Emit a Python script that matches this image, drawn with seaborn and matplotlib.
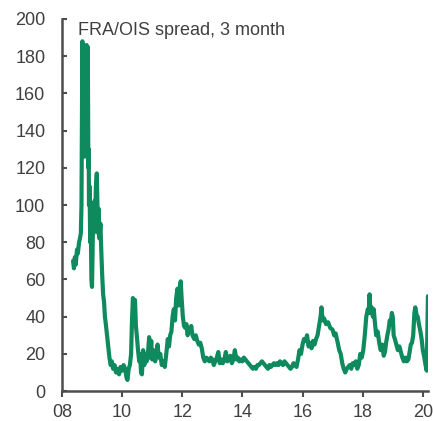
import matplotlib
matplotlib.use("Agg")
import matplotlib.pyplot as plt
import seaborn as sns
import pandas as pd
import numpy as np

years = [
    2008.37, 2008.40, 2008.43, 2008.46, 2008.50, 2008.53, 2008.57, 2008.60, 2008.63, 2008.65,
    2008.67, 2008.68, 2008.69, 2008.70, 2008.71, 2008.72, 2008.73, 2008.74, 2008.75, 2008.76,
    2008.77, 2008.78, 2008.79, 2008.80, 2008.81, 2008.82, 2008.83, 2008.84, 2008.85, 2008.86,
    2008.87, 2008.88, 2008.89, 2008.90, 2008.92, 2008.94, 2008.96, 2008.98, 2009.00, 2009.02,
    2009.04, 2009.06, 2009.08, 2009.10, 2009.13, 2009.16, 2009.18, 2009.20, 2009.22, 2009.25,
    2009.28, 2009.31, 2009.34, 2009.37, 2009.40, 2009.43,
    2009.46, 2009.50, 2009.54, 2009.58, 2009.62, 2009.66, 2009.70, 2009.75, 2009.80,
    2009.85, 2009.90, 2009.95, 2010.00, 2010.05, 2010.10, 2010.15, 2010.18, 2010.22, 2010.26,
    2010.30, 2010.33, 2010.36, 2010.40, 2010.43, 2010.46, 2010.50, 2010.53, 2010.57, 2010.60,
    2010.63, 2010.66, 2010.70, 2010.74, 2010.78, 2010.82, 2010.86, 2010.90, 2010.93, 2010.97,
    2011.00, 2011.05, 2011.10, 2011.15, 2011.18, 2011.22, 2011.27, 2011.32, 2011.37, 2011.42,
    2011.47, 2011.52, 2011.56, 2011.60, 2011.64, 2011.68, 2011.72, 2011.76, 2011.80, 2011.84,
    2011.88, 2011.92, 2011.95, 2011.98, 2012.02, 2012.06, 2012.10, 2012.14, 2012.18, 2012.22,
    2012.26, 2012.30, 2012.34, 2012.40, 2012.45, 2012.50, 2012.55, 2012.60, 2012.65, 2012.70,
    2012.75, 2012.80, 2012.85, 2012.90, 2012.95, 2013.00, 2013.05, 2013.10, 2013.15, 2013.20,
    2013.25, 2013.30, 2013.35, 2013.40, 2013.45, 2013.50, 2013.55, 2013.60, 2013.65, 2013.70,
    2013.75, 2013.80, 2013.85, 2013.90, 2013.95, 2014.00, 2014.05, 2014.10, 2014.15, 2014.20,
    2014.25, 2014.30, 2014.35, 2014.40, 2014.45, 2014.50, 2014.55, 2014.60, 2014.65, 2014.70,
    2014.75, 2014.80, 2014.85, 2014.90, 2014.95, 2015.00, 2015.05, 2015.10, 2015.15, 2015.20,
    2015.25, 2015.30, 2015.35, 2015.40, 2015.45, 2015.50, 2015.55, 2015.60, 2015.65, 2015.70,
    2015.75, 2015.80, 2015.85, 2015.90, 2015.95, 2016.00, 2016.05, 2016.10, 2016.15, 2016.20,
    2016.25, 2016.30, 2016.35, 2016.40, 2016.45, 2016.50, 2016.55, 2016.60, 2016.63, 2016.67,
    2016.72, 2016.78, 2016.85, 2016.92, 2017.00, 2017.05, 2017.10, 2017.17, 2017.22, 2017.27,
    2017.32, 2017.37, 2017.42, 2017.47, 2017.52, 2017.57, 2017.62, 2017.67, 2017.72, 2017.77,
    2017.82, 2017.87, 2017.92, 2017.97, 2018.02, 2018.07, 2018.12, 2018.17, 2018.20, 2018.23,
    2018.26, 2018.30, 2018.34, 2018.37, 2018.40, 2018.45, 2018.50, 2018.55, 2018.60, 2018.65,
    2018.70, 2018.74, 2018.78, 2018.82, 2018.86, 2018.90, 2018.93, 2018.97, 2019.00, 2019.03,
    2019.07, 2019.12, 2019.17, 2019.22, 2019.27, 2019.32, 2019.37, 2019.42, 2019.47, 2019.52,
    2019.57, 2019.60, 2019.64, 2019.68, 2019.72, 2019.75, 2019.79, 2019.83, 2019.87, 2019.92,
    2019.96, 2020.00, 2020.05, 2020.09, 2020.13, 2020.15, 2020.17,
]

spread = [
    70, 66, 72, 68, 76, 74, 80, 82, 85, 100,
    160, 188, 150, 186, 130, 182, 127, 176, 126, 172,
    130, 165, 128, 176, 135, 186, 140, 184, 132, 185,
    150, 120, 130, 100, 110, 80, 92, 60, 56, 75,
    100, 85, 102, 90, 110, 117, 100, 85, 98, 82,
    90, 75, 62, 52, 48, 40,
    36, 30, 24, 18, 14, 16, 12, 14, 10,
    12, 9, 13, 11, 14, 12, 7, 6, 12, 14,
    20, 38, 50, 48, 49, 35, 28, 22, 16, 20,
    10, 9, 22, 14, 20, 16, 20, 29, 18, 27,
    17, 22, 16, 20, 25, 18, 20, 14, 16, 13,
    20, 28, 24, 30, 32, 40, 44, 38, 50, 55,
    46, 56, 59, 50, 40, 35, 34, 36, 30, 34,
    32, 35, 30, 28, 30, 27, 25, 26, 23, 18,
    16, 18, 17, 16, 18, 17, 14, 16, 18, 21,
    15, 17, 15, 17, 21, 16, 17, 19, 15, 17,
    22, 17, 18, 16, 17, 16, 18, 17, 16, 15,
    14, 13, 12, 13, 12, 14, 14, 15, 16, 15,
    14, 13, 12, 14, 13, 14, 15, 14, 15, 14,
    16, 15, 14, 16, 15, 14, 13, 12, 13, 15,
    14, 13, 17, 22, 20, 25, 28, 27, 30, 24,
    26, 23, 27, 25, 28, 30, 35, 40, 45, 38,
    39, 36, 37, 34, 33, 30, 31, 26, 22, 20,
    15, 12, 10, 12, 13, 14, 12, 15, 14, 16,
    12, 14, 20, 18, 22, 30, 40, 44, 42, 52,
    42, 45, 40, 44, 38, 30, 32, 26, 22, 25,
    19, 21, 26, 30, 33, 38, 36, 42, 40, 30,
    28, 25, 22, 24, 21, 18, 16, 18, 16, 17,
    22, 25, 26, 30, 42, 45, 41, 40, 36, 32,
    28, 22, 18, 14, 11, 30, 51,
]

title_text = "FRA/OIS spread, 3 month"
x_ticks = [2008, 2010, 2012, 2014, 2016, 2018, 2020]
x_labels = ["08", "10", "12", "14", "16", "18", "20"]
y_ticks = list(range(0, 201, 20))

df = pd.DataFrame({"year": years, "spread": spread})

sns.set_style("ticks")
plt.rcParams["font.family"] = ["Liberation Sans", "DejaVu Sans"]

fig = plt.figure(figsize=(4.33, 4.21), dpi=100)
ax = fig.add_axes([0.143, 0.071, 0.846, 0.884])

line_color = "#0f8a5f"
text_color = "#404040"
axis_color = "#4d4d4d"

sns.lineplot(data=df, x="year", y="spread", ax=ax, color=line_color,
             linewidth=3.0, solid_joinstyle="round", solid_capstyle="round")

ax.set_xlim(2008, 2020.18)
ax.set_ylim(0, 200)
ax.set_xticks(x_ticks)
ax.set_xticklabels(x_labels)
ax.set_yticks(y_ticks)
ax.set_xlabel("")
ax.set_ylabel("")

for s in ["top", "right"]:
    ax.spines[s].set_visible(False)
for s in ["left", "bottom"]:
    ax.spines[s].set_color(axis_color)
    ax.spines[s].set_linewidth(1.8)

ax.tick_params(axis="y", colors=axis_color, labelcolor=text_color,
               labelsize=13, length=3.5, width=1.5, direction="in", pad=12)
ax.tick_params(axis="x", colors=axis_color, labelcolor=text_color,
               labelsize=13, length=4.5, width=1.5, direction="out", pad=5)

ax.text(0.045, 0.993, title_text, transform=ax.transAxes, ha="left", va="top",
        fontsize=13, color=text_color)

fig.savefig("out.png", dpi=100)
